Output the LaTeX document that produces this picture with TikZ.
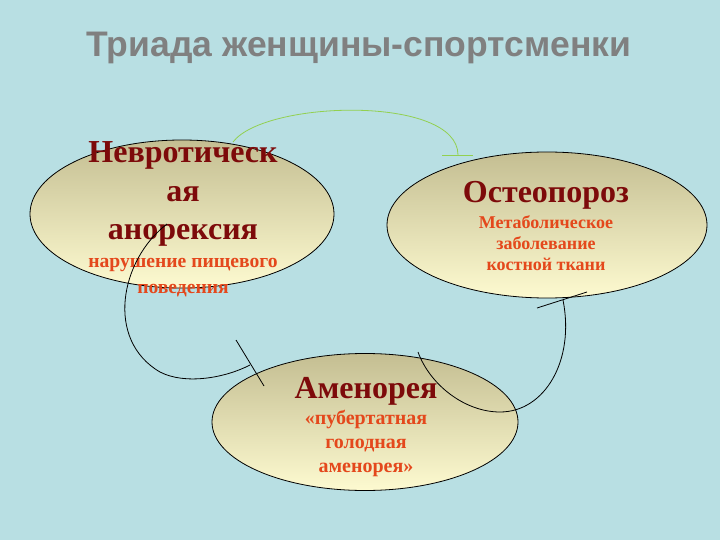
\documentclass[tikz,border=0pt]{standalone}
\usepackage{fontspec}
\setmainfont{Liberation Serif}
\newfontfamily\titlefont{Liberation Sans}
\usetikzlibrary{shapes.geometric}
\definecolor{bg}{RGB}{184,223,227}
\definecolor{mainred}{RGB}{125,10,10}
\definecolor{subred}{RGB}{228,72,28}
\definecolor{ellTop}{RGB}{196,190,146}
\definecolor{ellBot}{RGB}{253,250,208}
\definecolor{titlegray}{RGB}{128,128,128}
\definecolor{arcgreen}{RGB}{146,208,80}
\tikzset{
  ell/.style={ellipse, draw=black, line width=0.8pt, inner sep=0pt, top color=ellTop, bottom color=ellBot},
  maintxt/.style={anchor=base, align=center, text=mainred, font=\bfseries\fontsize{32}{38.5}\selectfont, inner sep=0pt},
  subtxt/.style={anchor=base, align=center, text=subred, font=\bfseries\fontsize{19.6}{26}\selectfont, inner sep=0pt},
  conn/.style={draw=black, line width=0.8pt},
  gconn/.style={draw=arcgreen, line width=0.8pt}
}
\begin{document}
\begin{tikzpicture}[x=1pt,y=-1pt]
\fill[bg] (0,0) rectangle (720,540);
\useasboundingbox (0,0) rectangle (720,540);
\node[anchor=base, text=titlegray, font=\titlefont\bfseries\fontsize{35.5}{40}\selectfont, inner sep=0pt] (title) at (359,57) {Триада женщины-спортсменки};
% ellipses
\node[ell, minimum width=304pt, minimum height=148pt] (anor) at (182,214) {};
\node[ell, minimum width=320pt, minimum height=146pt] (osteo) at (547,225) {};
\node[ell, minimum width=306pt, minimum height=137pt] (amen) at (365,422) {};
% texts (base anchor = baseline of last line)
\node[maintxt] (anorT) at (183,240) {Невротическ\\ая\\анорексия};
\node[subtxt] (anorS) at (183,293) {нарушение пищевого\\поведения};
\node[maintxt] (osteoT) at (546,203) {Остеопороз};
\node[subtxt, font=\bfseries\fontsize{18}{21}\selectfont] (osteoS) at (546,270) {Метаболическое\\заболевание\\костной ткани};
\node[maintxt] (amenT) at (366,398) {Аменорея};
\node[subtxt, font=\bfseries\fontsize{20}{24}\selectfont] (amenS) at (366,472) {«пубертатная\\голодная\\аменорея»};
% connector coordinates
\coordinate (g0) at (233,142);
\coordinate (g1) at (458,155);
\coordinate (gt1) at (442,155);
\coordinate (gt2) at (473,155);
\coordinate (l0) at (167,224);
\coordinate (l1) at (160,372);
\coordinate (l2) at (250,365);
\coordinate (lt1) at (236,340);
\coordinate (lt2) at (264,386);
\coordinate (r0) at (418,352);
\coordinate (r1) at (500,412);
\coordinate (r2) at (563,300);
\coordinate (rt1) at (537,308);
\coordinate (rt2) at (587,292);
% connectors
\draw[gconn] (g0) .. controls (265,100) and (458,95) .. (g1);
\draw[gconn] (gt1) -- (gt2);
\draw[conn] (l0) .. controls (120,260) and (105,340) .. (l1) .. controls (185,385) and (225,378) .. (l2);
\draw[conn] (lt1) -- (lt2);
\draw[conn] (r0) .. controls (430,385) and (465,412) .. (r1) .. controls (545,412) and (575,360) .. (r2);
\draw[conn] (rt1) -- (rt2);
\end{tikzpicture}
\end{document}
